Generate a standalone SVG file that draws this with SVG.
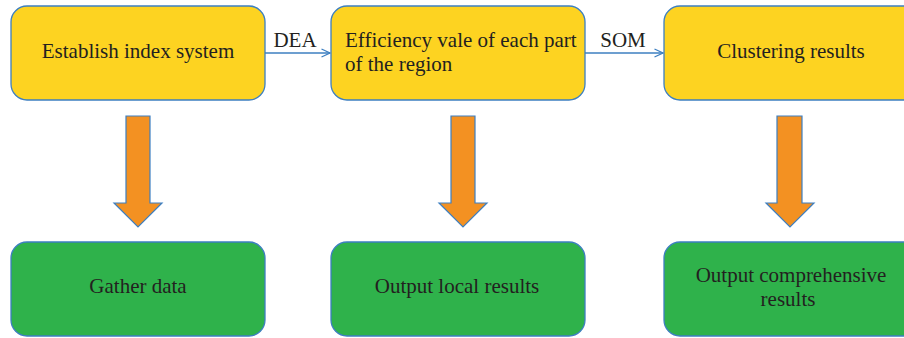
<svg xmlns="http://www.w3.org/2000/svg" width="904" height="338" viewBox="0 0 904 338">
  <defs>
    <style>
      .box { stroke: #3d7fc1; stroke-width: 1.3; }
      .step { fill: #fdd321; }
      .out { fill: #2fb24b; }
      .lbl { font-family: "Liberation Serif", "DejaVu Serif", serif; font-size: 21px; fill: #231f20; }
      .mid { text-anchor: middle; }
      .link { fill: none; stroke: #3d7fc1; stroke-width: 1.3; }
      .down { fill: #f39122; stroke: #3d7fc1; stroke-width: 1.2; stroke-linejoin: miter; }
    </style>
    <marker id="chev" viewBox="0 0 10 10" refX="9.5" refY="5" markerWidth="10" markerHeight="10" markerUnits="userSpaceOnUse" orient="auto">
      <path d="M1,1 L9.5,5 L1,9" fill="none" stroke="#3d7fc1" stroke-width="1.3"/>
    </marker>
  </defs>
  <rect width="904" height="338" fill="#ffffff"/>

  <!-- top row: processing steps -->
  <g id="establish">
    <rect class="box step" x="11" y="6" width="254" height="94" rx="16"/>
    <text class="lbl mid" x="138" y="58">Establish index system</text>
  </g>
  <g id="efficiency">
    <rect class="box step" x="331" y="6" width="254" height="94" rx="16"/>
    <text class="lbl" x="345" y="47">Efficiency vale of each part</text>
    <text class="lbl" x="345" y="71">of the region</text>
  </g>
  <g id="clustering">
    <rect class="box step" x="664" y="6" width="260" height="94" rx="16"/>
    <text class="lbl mid" x="791" y="58">Clustering results</text>
  </g>

  <!-- bottom row: outputs -->
  <g id="gather">
    <rect class="box out" x="11" y="242" width="254" height="94" rx="16"/>
    <text class="lbl mid" x="138" y="293">Gather data</text>
  </g>
  <g id="local">
    <rect class="box out" x="331" y="242" width="254" height="94" rx="16"/>
    <text class="lbl mid" x="457" y="293">Output local results</text>
  </g>
  <g id="comprehensive">
    <rect class="box out" x="664" y="242" width="260" height="94" rx="16"/>
    <text class="lbl mid" x="791" y="282">Output comprehensive</text>
    <text class="lbl mid" x="788" y="306">results</text>
  </g>

  <!-- connectors -->
  <g id="connectors">
    <path class="link" d="M265,53 H330" marker-end="url(#chev)"/>
    <text class="lbl mid" x="295" y="47">DEA</text>
    <path class="link" d="M585,53 H663" marker-end="url(#chev)"/>
    <text class="lbl mid" x="623" y="47">SOM</text>

    <path class="down" d="M126,116 H150 V203 H162 L138,227 L114,203 H126 Z"/>
    <path class="down" d="M451,116 H475 V203 H487 L463,227 L439,203 H451 Z"/>
    <path class="down" d="M777,116 H802 V203 H814 L790,227 L766,203 H777 Z"/>
  </g>
</svg>
